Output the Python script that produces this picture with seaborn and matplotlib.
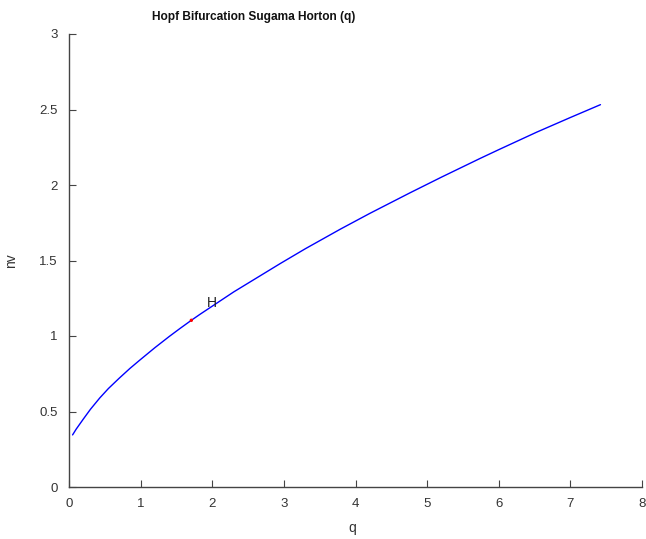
import matplotlib
matplotlib.use("Agg")
import matplotlib.pyplot as plt
import seaborn as sns
import pandas as pd

# Data
q_vals = [0.05, 0.10, 0.20, 0.30, 0.43, 0.55, 0.70, 0.85, 0.99, 1.20, 1.40, 1.55,
          1.708, 1.83, 2.30, 2.95, 3.30, 3.79, 4.20, 4.76, 5.20, 5.74, 6.00, 6.53,
          7.00, 7.42]
nv_vals = [0.345, 0.383, 0.45, 0.515, 0.59, 0.652, 0.72, 0.785, 0.841, 0.923, 0.997,
           1.05, 1.104, 1.144, 1.292, 1.48, 1.578, 1.708, 1.812, 1.948, 2.052, 2.176,
           2.234, 2.35, 2.447, 2.532]
hopf_q = [1.708]
hopf_nv = [1.104]
hopf_label = "H"
x_ticks = [0, 1, 2, 3, 4, 5, 6, 7, 8]
y_ticks = [0, 0.5, 1, 1.5, 2, 2.5, 3]
y_tick_labels = ["0", "0.5", "1", "1.5", "2", "2.5", "3"]

sns.set_style("ticks")
plt.rcParams["font.family"] = ["Liberation Sans", "DejaVu Sans"]

fig = plt.figure(figsize=(6.46, 5.39), dpi=100)
ax = fig.add_axes([69 / 646, 1 - 487 / 539, (642 - 69) / 646, (487 - 34) / 539])

df = pd.DataFrame({"q": q_vals, "nv": nv_vals})
sns.lineplot(data=df, x="q", y="nv", ax=ax, color="#0000ff", linewidth=1.0,
             sort=False, estimator=None)
hp = pd.DataFrame({"q": hopf_q, "nv": hopf_nv})
sns.scatterplot(data=hp, x="q", y="nv", ax=ax, color="#ff0000", s=6,
                edgecolor="none", zorder=5)
ax.text(hopf_q[0] + 0.21, hopf_nv[0] + 0.065, hopf_label, fontsize=10,
        color="#222222", ha="left", va="bottom")

ax.set_xlim(0, 8)
ax.set_ylim(0, 3)
ax.set_xticks(x_ticks)
ax.set_yticks(y_ticks)
ax.set_yticklabels(y_tick_labels)
sns.despine(ax=ax)
for s in ["left", "bottom"]:
    ax.spines[s].set_color("#444444")
    ax.spines[s].set_linewidth(1.0)
ax.tick_params(direction="in", length=5, width=0.8, color="#444444",
               labelcolor="#333333", labelsize=9.5, pad=8)

ax.set_xlabel("q", fontsize=10, color="#333333")
ax.set_ylabel("nv", fontsize=10, color="#333333")
ax.xaxis.set_label_coords((352 - 69) / 573, (487 - 521) / 453)
ax.yaxis.set_label_coords((18 - 69) / 573, 0.5)
fig.text(254 / 646, 1 - 17 / 539, "Hopf Bifurcation Sugama Horton (q)",
         ha="center", va="center", fontsize=8.6, fontweight="bold", color="#111111")

fig.savefig("out.png", dpi=100)
